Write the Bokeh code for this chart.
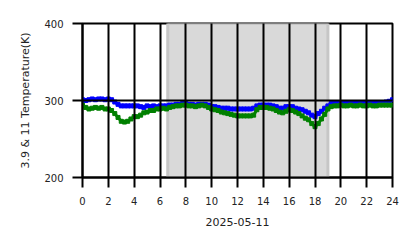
from bokeh.plotting import figure
from bokeh.models import FixedTicker, Range1d
from bokeh.embed import file_html
from bokeh.resources import INLINE

# hours of day (quarter-hour steps)
hours = [i * 0.25 for i in range(97)]

temp_39 = [301, 300, 301, 302, 301, 302, 302, 301, 302, 301,
           298, 295, 293, 293, 293, 293, 293, 293, 292, 291,
           293, 292, 293, 292, 293, 293, 293, 294, 294, 295,
           295, 296, 296, 295, 295, 294, 295, 295, 295, 294,
           292, 292, 291, 290, 290, 290, 289, 289, 289, 289,
           289, 289, 289, 290, 293, 294, 294, 294, 294, 293,
           292, 290, 290, 292, 292, 292, 290, 289, 288, 286,
           284, 281, 279, 283, 286, 290, 293, 296, 297, 297,
           297, 297, 297, 297, 297, 297, 297, 297, 297, 297,
           297, 297, 297, 297, 298, 299, 301]

temp_11 = [294, 291, 289, 290, 291, 290, 291, 289, 289, 287,
           283, 278, 273, 272, 273, 276, 279, 279, 281, 284,
           285, 287, 287, 289, 289, 290, 289, 291, 292, 293,
           293, 294, 294, 293, 293, 292, 293, 294, 293, 291,
           289, 288, 287, 285, 284, 283, 282, 281, 280, 280,
           280, 280, 280, 281, 288, 291, 291, 291, 290, 289,
           287, 285, 284, 286, 288, 287, 285, 283, 280, 277,
           275, 270, 266, 270, 276, 282, 289, 292, 293, 293,
           294, 293, 293, 294, 293, 293, 294, 293, 293, 294,
           293, 293, 294, 294, 294, 294, 294]

night_start = 6.6
night_end = 19.0

x_ticks = list(range(0, 25, 2))
y_ticks = [200, 300, 400]
x_label = "2025-05-11"
y_label = "3.9 & 11 Temperature(K)"

p = figure(width=418, height=248, output_backend="svg", toolbar_location=None,
           x_range=Range1d(0, 24), y_range=Range1d(200, 400),
           min_border_left=82, min_border_right=26, min_border_top=23,
           min_border_bottom=71)

p.background_fill_color = "white"
p.border_fill_color = "white"
p.outline_line_color = "black"
p.outline_line_width = 2

# shaded span
p.quad(left=[night_start], right=[night_end], bottom=[200], top=[400],
       fill_color="#d9d9d9", line_color="#c6c6c6", line_width=3)

p.line(hours, temp_39, line_color="blue", line_width=3)
p.scatter(hours, temp_39, marker="square", size=4, color="blue")
p.line(hours, temp_11, line_color="green", line_width=3)
p.scatter(hours, temp_11, marker="square", size=4, color="green")

p.xaxis.ticker = FixedTicker(ticks=x_ticks)
p.yaxis.ticker = FixedTicker(ticks=y_ticks)
for ax in (p.xaxis, p.yaxis):
    ax.axis_line_color = "black"
    ax.axis_line_width = 2
    ax.major_tick_line_color = "black"
    ax.major_tick_line_width = 2
    ax.major_tick_out = 10
    ax.major_tick_in = 0
    ax.minor_tick_line_color = None
    ax.major_label_text_font = "DejaVu Sans"
    ax.major_label_text_font_size = "10px"
    ax.major_label_text_color = "#222222"
    ax.axis_label_text_font = "DejaVu Sans"
    ax.axis_label_text_font_size = "11px"
    ax.axis_label_text_font_style = "normal"
    ax.axis_label_text_color = "#222222"
    ax.major_label_standoff = 9

p.xaxis.axis_label = x_label
p.yaxis.axis_label = y_label
p.xaxis.axis_label_standoff = 10
p.yaxis.axis_label_standoff = 9

for g in (p.xgrid, p.ygrid):
    g.grid_line_color = "black"
    g.grid_line_width = 2
    g.grid_line_alpha = 1.0
    g.level = "overlay"
p.xgrid.ticker = FixedTicker(ticks=x_ticks)
p.ygrid.ticker = FixedTicker(ticks=y_ticks)

open("out.html", "w").write(file_html(p, INLINE))
